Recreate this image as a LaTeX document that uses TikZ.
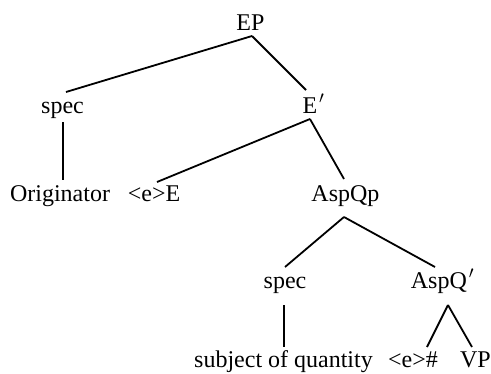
\documentclass[tikz,border=0pt]{standalone}
\usepackage{fontspec}
\setmainfont{Liberation Serif}
\tikzset{
  lbl/.style={font=\fontsize{24}{28}\selectfont, anchor=base, inner sep=0pt},
  branch/.style={line width=1.8pt}
}
\begin{document}
\begin{tikzpicture}[x=1pt,y=-1pt]
\useasboundingbox (0,0) rectangle (491,373);
% nodes (x = centre, y = baseline)
\node[lbl] (ep)    at (250.5,30)  {EP};
\node[lbl] (spa)   at (62.5,113)  {spec};
\node[lbl] (ebar)  at (313.5,113) {E\kern2pt$'$};
\node[lbl] (orig)  at (60,201)    {Originator};
\node[lbl] (ee)    at (154,201)   {<e>E};
\node[lbl] (aqp)   at (345.5,201) {AspQp};
\node[lbl] (spb)   at (285,288)   {spec};
\node[lbl] (aqbar) at (442.5,288) {AspQ\kern2pt$'$};
\node[lbl] (subj)  at (283.5,367) {subject of quantity};
\node[lbl] (eh)    at (413,367)   {<e>\#};
\node[lbl] (vp)    at (475.5,367) {VP};
% branches
\draw[branch] ([xshift=1.5pt,yshift=-6pt]ep.base) -- ([xshift=3.5pt,yshift=21pt]spa.base);
\draw[branch] ([xshift=1.5pt,yshift=-6pt]ep.base) -- ([xshift=-7.5pt,yshift=23pt]ebar.base);
\draw[branch] ([xshift=0.5pt,yshift=-9pt]spa.base) -- ([xshift=3pt,yshift=21pt]orig.base);
\draw[branch] ([xshift=-3.5pt,yshift=-6pt]ebar.base) -- ([xshift=3pt,yshift=19pt]ee.base);
\draw[branch] ([xshift=-3.5pt,yshift=-6pt]ebar.base) -- ([xshift=-1.5pt,yshift=22pt]aqp.base);
\draw[branch] ([xshift=-1.5pt,yshift=-16pt]aqp.base) -- ([yshift=21pt]spb.base);
\draw[branch] ([xshift=-1.5pt,yshift=-16pt]aqp.base) -- ([xshift=-7.5pt,yshift=21pt]aqbar.base);
\draw[branch] ([xshift=-1pt,yshift=-17pt]spb.base) -- ([xshift=0.5pt,yshift=20pt]subj.base);
\draw[branch] ([xshift=5.5pt,yshift=-17pt]aqbar.base) -- ([xshift=14pt,yshift=20pt]eh.base);
\draw[branch] ([xshift=5.5pt,yshift=-17pt]aqbar.base) -- ([xshift=-3.5pt,yshift=20pt]vp.base);
\end{tikzpicture}
\end{document}
